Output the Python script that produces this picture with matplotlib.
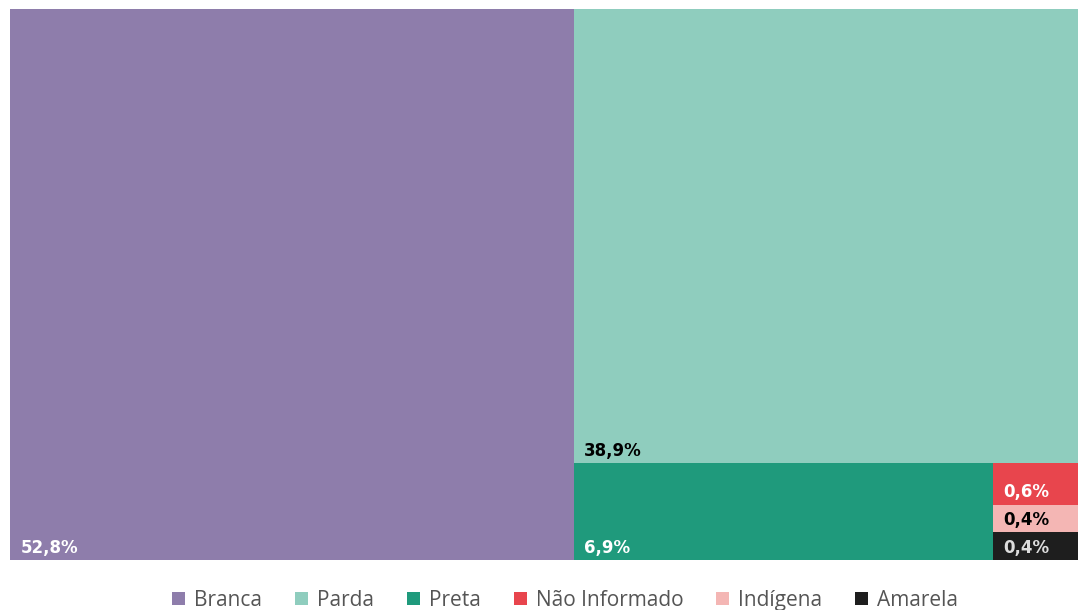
import matplotlib
matplotlib.use("Agg")
import matplotlib.pyplot as plt
from matplotlib.patches import Rectangle
from matplotlib.transforms import IdentityTransform

# data
categories = ["Branca", "Parda", "Preta", "Não Informado", "Indígena", "Amarela"]
values = [52.8, 38.9, 6.9, 0.6, 0.4, 0.4]
labels = ["52,8%", "38,9%", "6,9%", "0,6%", "0,4%", "0,4%"]

colors = ["#8e7dab", "#8fcdbe", "#1f9a7c", "#e8454d", "#f4b6b4", "#1e1e1e"]
label_colors = ["white", "black", "white", "white", "black", "#dddddd"]
# how each tile cuts its strip from what is left: 'v' = column, 'h' = row
cuts = ["v", "h", "v", "h", "h", "h"]


def strip_layout(vals, cuts):
    x, y, w, h = 0.0, 0.0, 1.0, 1.0
    left = float(sum(vals))
    rects = []
    for v, c in zip(vals, cuts):
        share = v / left if left else 0
        if c == "v":
            rects.append((x, y, w * share, h))
            x += w * share
            w -= w * share
        else:
            rects.append((x, y, w, h * share))
            y += h * share
            h -= h * share
        left -= v
    return rects


fig = plt.figure(figsize=(10.78, 6.10), dpi=100)
ax = fig.add_axes([10 / 1078, 50 / 610, 1068 / 1078, 551 / 610])
ax.set_xlim(0, 1)
ax.set_ylim(1, 0)  # top-down
ax.axis("off")

rects = strip_layout(values, cuts)
for (x, y, w, h), col, lab, lc in zip(rects, colors, labels, label_colors):
    ax.bar(x, h, width=w, bottom=y, align="edge", color=col, linewidth=0)
    ax.annotate(lab, (x, y + h), xytext=(7.5, 2.5), textcoords="offset points",
                ha="left", va="bottom", fontsize=12, fontweight="bold",
                color=lc, family="DejaVu Sans")

# legend row, laid out by hand so every label shares one baseline (pixels)
px = IdentityTransform()
sq, pad, span, centre, base = 13, 9, 786, 565, 4
fig.canvas.draw()
rend = fig.canvas.get_renderer()
texts = []
for cat in categories:
    t = fig.text(0, base, cat, transform=px, va="baseline", ha="left",
                 fontsize=15, color="#555555",
                 family=["Open Sans", "DejaVu Sans"])
    texts.append(t)
widths = [t.get_window_extent(rend).width for t in texts]
items = [sq + pad + w for w in widths]
gap = (span - sum(items)) / (len(items) - 1)
x = centre - span / 2
for t, w, col in zip(texts, widths, colors):
    fig.patches.append(Rectangle((x, base + 1), sq, sq, transform=px,
                                 facecolor=col, edgecolor="none"))
    t.set_x(x + sq + pad)
    x += sq + pad + w + gap

fig.savefig("out.png", dpi=100)
